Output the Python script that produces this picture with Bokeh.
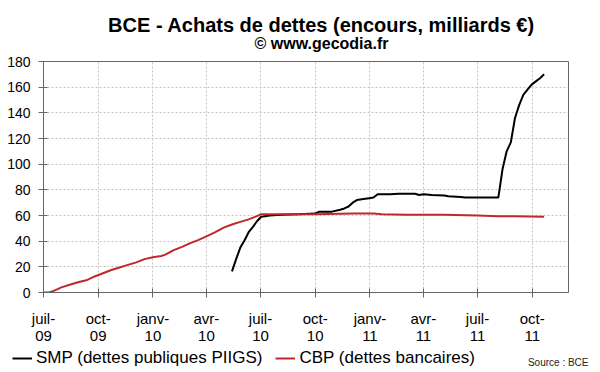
import pandas as pd
from bokeh.plotting import figure
from bokeh.layouts import column, row
from bokeh.models import Range1d, FixedTicker, Legend, LegendItem, Label
from bokeh.embed import file_html
from bokeh.resources import INLINE

# ---- data ----
tick_dates = ["2009-07-01", "2009-10-01", "2010-01-01", "2010-04-01", "2010-07-01",
              "2010-10-01", "2011-01-01", "2011-04-01", "2011-07-01", "2011-10-01"]
tick_labels = ["juil-\n09", "oct-\n09", "janv-\n10", "avr-\n10", "juil-\n10",
               "oct-\n10", "janv-\n11", "avr-\n11", "juil-\n11", "oct-\n11"]
y_ticks = [0, 20, 40, 60, 80, 100, 120, 140, 160, 180]

smp_dates = ["2010-05-14", "2010-05-21", "2010-05-28", "2010-06-04", "2010-06-11",
             "2010-06-18", "2010-06-25", "2010-07-02", "2010-07-09", "2010-07-16",
             "2010-08-06", "2010-09-03", "2010-10-01", "2010-10-08", "2010-10-29",
             "2010-11-12", "2010-11-19", "2010-11-26", "2010-12-03", "2010-12-10",
             "2010-12-24", "2010-12-31", "2011-01-07", "2011-01-14", "2011-02-04",
             "2011-02-18", "2011-03-18", "2011-03-25", "2011-04-01", "2011-04-15",
             "2011-05-06", "2011-05-13", "2011-06-03", "2011-06-10", "2011-08-05",
             "2011-08-12", "2011-08-19", "2011-08-26", "2011-09-02", "2011-09-09",
             "2011-09-16", "2011-09-23", "2011-09-30", "2011-10-07", "2011-10-14",
             "2011-10-21"]
smp_values = [16.5, 26, 35, 40.5, 47,
              51, 55.5, 59, 59.5, 60,
              60.5, 61, 61.5, 63, 63,
              64.5, 65.5, 67, 70, 72,
              73, 73.5, 74, 76.5, 76.5,
              77, 77, 76, 76.5, 76,
              75.5, 75, 74.5, 74, 74,
              96, 110, 117, 136, 146,
              154, 158, 162, 164.5, 167,
              170]

cbp_dates = ["2009-07-01", "2009-07-10", "2009-07-17", "2009-07-24", "2009-07-31",
             "2009-08-14", "2009-08-28", "2009-09-11", "2009-09-25", "2009-10-09",
             "2009-10-23", "2009-11-06", "2009-11-20", "2009-12-04", "2009-12-18",
             "2010-01-01", "2010-01-15", "2010-01-22", "2010-02-05", "2010-02-19",
             "2010-03-05", "2010-03-19", "2010-04-02", "2010-04-16", "2010-04-30",
             "2010-05-14", "2010-05-28", "2010-06-11", "2010-06-25", "2010-07-02",
             "2010-08-06", "2010-10-01", "2010-12-03", "2011-01-07", "2011-01-21",
             "2011-03-04", "2011-05-06", "2011-07-01", "2011-08-05", "2011-09-02",
             "2011-10-21"]
cbp_values = [0, 0, 1, 2.5, 4,
              6, 8, 9.5, 12.5, 15,
              17.5, 19.5, 21.5, 23.5, 26,
              27.5, 28.5, 29.5, 33, 35.5,
              38.5, 41, 44, 47, 50.5,
              53, 55, 57, 59.5, 61,
              61, 61, 61.5, 61.5, 61,
              60.5, 60.5, 60, 59.5, 59.5,
              59]

x_start, x_end = "2009-07-01", "2011-12-01"

title_text = "BCE - Achats de dettes (encours, milliards €)"
subtitle_text = "© www.gecodia.fr"
smp_label = "SMP (dettes publiques PIIGS)"
cbp_label = "CBP (dettes bancaires)"
source_text = "Source : BCE"


def ms(d):
    return int(pd.Timestamp(d).value // 10**6)


FONT = "Liberation Sans"
W = 600
SMP_COLOR = "black"
CBP_COLOR = "#c0272d"

smp_x = [ms(d) for d in smp_dates]
cbp_x = [ms(d) for d in cbp_dates]


def blank(h):
    f = figure(width=W, height=h, output_backend="svg", toolbar_location=None,
               x_range=Range1d(0, W), y_range=Range1d(0, h),
               x_axis_location=None, y_axis_location=None,
               min_border=0, min_border_left=0, min_border_right=0,
               min_border_top=0, min_border_bottom=0)
    f.title = None
    f.xgrid.visible = False
    f.ygrid.visible = False
    f.outline_line_color = None
    f.background_fill_color = "white"
    f.border_fill_color = "white"
    return f


# ---- top: titles ----
top = blank(53)
top.add_layout(Label(x=321, y=28.2, text=title_text, text_font=FONT,
                     text_font_style="bold", text_font_size="20px", text_color="black",
                     text_align="center", text_baseline="alphabetic"))
top.add_layout(Label(x=321, y=10.5, text=subtitle_text, text_font=FONT,
                     text_font_style="bold", text_font_size="16px", text_color="black",
                     text_align="center", text_baseline="alphabetic"))

# ---- main chart ----
p = figure(width=W, height=296, output_backend="svg", toolbar_location=None,
           x_range=Range1d(ms(x_start), ms(x_end)), y_range=Range1d(0, 180),
           min_border_left=43, min_border_right=32, min_border_top=8,
           min_border_bottom=57)
p.title = None
p.background_fill_color = "white"
p.border_fill_color = "white"
p.outline_line_color = "#666666"
p.outline_line_width = 1

xt = [ms(d) for d in tick_dates]
p.xaxis.ticker = FixedTicker(ticks=xt)
p.xaxis.major_label_overrides = {t: l for t, l in zip(xt, tick_labels)}
p.yaxis.ticker = FixedTicker(ticks=y_ticks)
for ax in (p.xaxis[0], p.yaxis[0]):
    ax.axis_line_color = "#666666"
    ax.major_tick_line_color = "#666666"
    ax.major_tick_in = 4
    ax.major_tick_out = 5
    ax.minor_tick_line_color = None
    ax.major_label_text_font = FONT
    ax.major_label_text_color = "black"
p.xaxis.major_label_text_font_size = "15px"
p.xaxis.major_label_standoff = 12
p.xaxis.major_label_text_line_height = 1.05
p.yaxis.major_label_text_font_size = "14px"
p.yaxis.major_label_standoff = 8

for g in (p.xgrid[0], p.ygrid[0]):
    g.grid_line_color = "#c4c4c4"
    g.grid_line_dash = "2 2"
    g.grid_line_width = 1

p.line(smp_x, smp_values, line_color=SMP_COLOR, line_width=2)
p.line(cbp_x, cbp_values, line_color=CBP_COLOR, line_width=2)

# ---- bottom: legend + source ----
bot = blank(23)
# same series drawn in the legend strip (they fall outside its range, so only
# their legend swatches show)
l_smp = bot.line(smp_x, smp_values, line_color=SMP_COLOR, line_width=2)
l_cbp = bot.line(cbp_x, cbp_values, line_color=CBP_COLOR, line_width=2)
legend = Legend(items=[LegendItem(label=smp_label, renderers=[l_smp]),
                       LegendItem(label=cbp_label, renderers=[l_cbp])],
                orientation="horizontal", location=(12, 4),
                label_text_font=FONT, label_text_font_size="17px",
                label_text_color="black",
                glyph_width=20, glyph_height=16, label_height=16, label_standoff=4,
                spacing=13, padding=0, margin=0, border_line_color=None,
                background_fill_alpha=0)
bot.add_layout(legend, "center")
bot.add_layout(Label(x=588, y=10.5, text=source_text, text_font=FONT,
                     text_font_size="10px", text_color="#222222",
                     text_align="right", text_baseline="alphabetic"))

# wrap the text strips so their frames are not aligned with the chart's frame
layout = column(row(top), p, row(bot), spacing=0)
open("out.html", "w").write(file_html(layout, INLINE))
